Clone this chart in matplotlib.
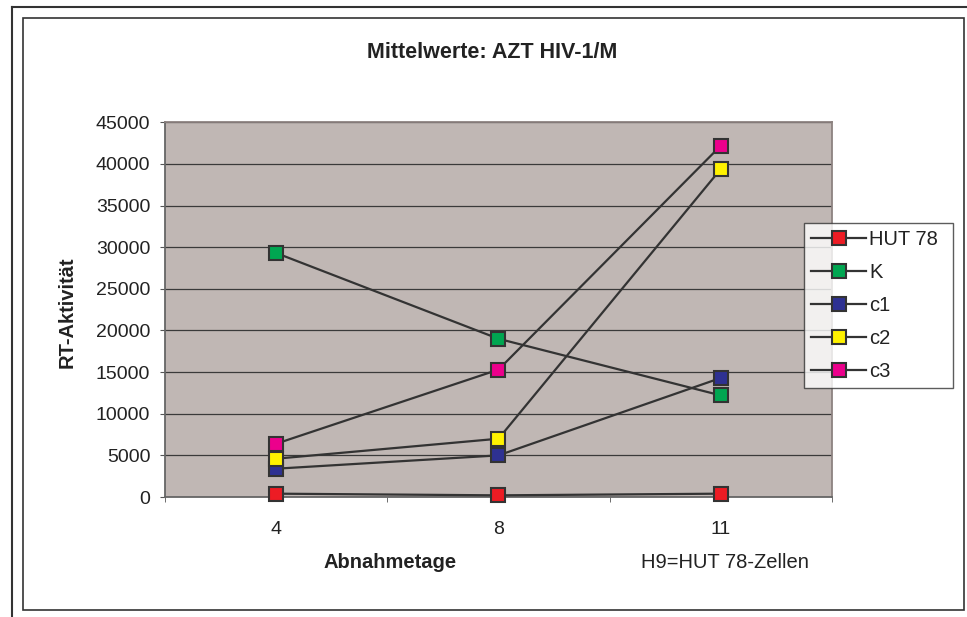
import matplotlib.pyplot as plt
from matplotlib.lines import Line2D
from matplotlib.patches import Rectangle

plt.rcParams['font.family'] = ['Liberation Sans', 'DejaVu Sans']

# ----------------------------
# data
# ----------------------------
days = ["4", "8", "11"]
hut78 = [400, 200, 400]
k = [29300, 19000, 12200]
c1 = [3400, 5000, 14300]
c2 = [4600, 7000, 39400]
c3 = [6400, 15300, 42200]

series_names = ["HUT 78", "K", "c1", "c2", "c3"]
series_colors = ["#ED1C24", "#00A651", "#2E3192", "#FFF200", "#EC008C"]
y_ticks = list(range(0, 45001, 5000))

# ----------------------------
# figure + frames
# ----------------------------
W, H = 967, 617
fig = plt.figure(figsize=(W / 100, H / 100), dpi=100)

def px(x, y):
    return x / W, 1 - y / H

# outer (cropped) frame: top and left lines only
fig.add_artist(Line2D([12 / W, 1], [1 - 7 / H] * 2, color="#333333", lw=1.5))
fig.add_artist(Line2D([12 / W] * 2, [0, 1 - 7 / H], color="#333333", lw=1.5))
# inner chart frame
x0, y0 = px(23, 610)
x1, y1 = px(964, 18)
fig.add_artist(Rectangle((x0, y0), x1 - x0, y1 - y0, transform=fig.transFigure,
                         fill=False, ec="#333333", lw=1.2))

ax = fig.add_axes([165 / W, 1 - 497 / H, (832 - 165) / W, (497 - 122.3) / H])
ax.set_facecolor("#C0B7B4")

xs = range(len(days))
for name, vals, col in zip(series_names, [hut78, k, c1, c2, c3], series_colors):
    ax.plot(xs, vals, color="#333333", lw=1.6, marker="s", markersize=10,
            markerfacecolor=col, markeredgecolor="#333333", markeredgewidth=1.5,
            label=name, zorder=3, clip_on=False)

ax.set_xlim(-0.5, 2.5)
ax.set_ylim(0, 45000)
ax.set_yticks(y_ticks)
ax.set_yticklabels([str(v) for v in y_ticks], fontsize=14, color="#222222")
ax.yaxis.grid(True, color="#3a3a3a", lw=0.9)
ax.set_axisbelow(True)

ax.set_xticks(list(xs))
ax.set_xticklabels(days, fontsize=14, color="#222222")
ax.tick_params(axis="x", which="major", length=0, pad=17)
ax.set_xticks([-0.5, 0.5, 1.5, 2.5], minor=True)
ax.tick_params(axis="x", which="minor", length=3.6, color="#555555")
ax.tick_params(axis="y", length=3.6, color="#555555", pad=7)

for side in ["left", "bottom"]:
    ax.spines[side].set_color("#666666")
    ax.spines[side].set_linewidth(1.3)
for side in ["top", "right"]:
    ax.spines[side].set_color("#8c8280")
    ax.spines[side].set_linewidth(1.3)

# titles and labels
fig.text(492 / W, 1 - 53 / H, "Mittelwerte: AZT HIV-1/M", ha="center", va="center",
         fontsize=15.5, fontweight="bold", color="#222222")
fig.text(67 / W, 1 - 312 / H, "RT-Aktivität", ha="center", va="center",
         rotation=90, fontsize=14.5, fontweight="bold", color="#222222")
fig.text(390 / W, 1 - 563 / H, "Abnahmetage", ha="center", va="center",
         fontsize=14.5, fontweight="bold", color="#222222")
fig.text(725 / W, 1 - 563 / H, "H9=HUT 78-Zellen", ha="center", va="center",
         fontsize=14.5, color="#222222")

# legend
lx0, ly0 = px(804, 389)
lx1, ly1 = px(953, 223)
leg = fig.legend(loc="upper left", bbox_to_anchor=(lx0, ly0, lx1 - lx0, ly1 - ly0),
                 mode="expand", frameon=True, fancybox=False, fontsize=14.5,
                 handlelength=2.75, handletextpad=0.15, labelspacing=0.7,
                 borderpad=0.35, borderaxespad=0)
leg.get_frame().set_edgecolor("#333333")
leg.get_frame().set_linewidth(1.0)
for t in leg.get_texts():
    t.set_color("#222222")

fig.savefig("out.png", dpi=100)
